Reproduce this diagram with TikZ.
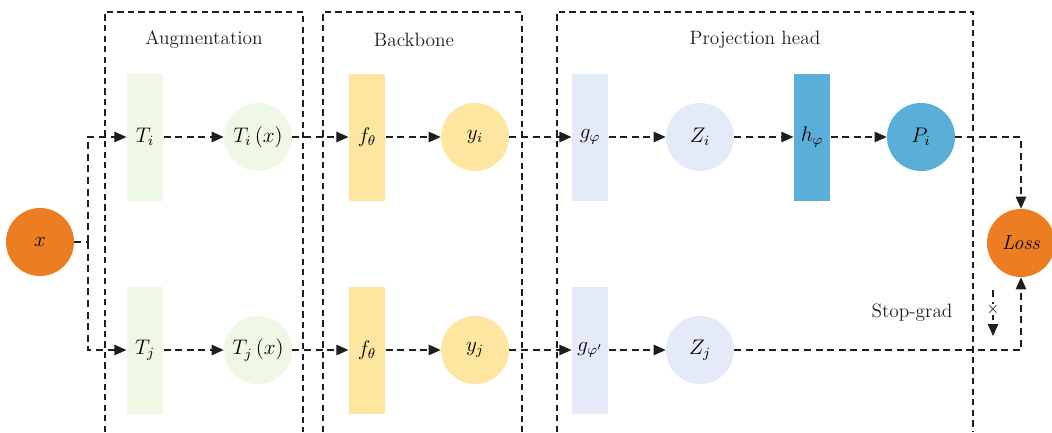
\documentclass[tikz,border=0pt]{standalone}
\usepackage{tikz}
\usetikzlibrary{arrows.meta,positioning,calc}
\definecolor{tangerine}{RGB}{237,125,35}
\definecolor{mint}{RGB}{238,248,228}
\definecolor{butter}{RGB}{252,230,160}
\definecolor{lilac}{RGB}{228,234,248}
\definecolor{sky}{RGB}{91,174,216}
\definecolor{ink}{RGB}{30,30,30}
\tikzset{
  >={Triangle[length=2.4mm,width=2.1mm]},
  bar/.style={fill=#1,minimum width=7.3mm,minimum height=25.4mm,inner sep=0pt,
    font=\fontsize{11.5}{13}\selectfont},
  bar/.default=mint,
  blob/.style={circle,fill=#1,minimum size=13.6mm,inner sep=0pt,
    font=\fontsize{11.5}{13}\selectfont},
  blob/.default=mint,
  flow/.style={->,draw=ink,line width=0.6pt,dash pattern=on 4pt off 2.6pt},
  frame/.style={draw=ink,line width=0.6pt,dash pattern=on 3.6pt off 2.4pt},
  title/.style={font=\fontsize{11}{13}\selectfont,text=ink},
}

\begin{document}
\begin{tikzpicture}[x=0.2mm,y=-0.2mm]
  \useasboundingbox (0,0) rectangle (1052,432);
  % stage frames, open at the bottom
  \draw[frame] (105,432) -- (105,12) -- (303,12) -- (303,432);
  \draw[frame] (323,432) -- (323,12) -- (522,12) -- (522,432);
  \draw[frame] (557,432) -- (557,12) -- (973,12) -- (973,432);
  \node[title] (augt) at (204,40) {Augmentation};
  \node[title] (bbt) at (414,40) {Backbone};
  \node[title] (projt) at (755,40) {Projection head};

  \node[blob=tangerine] (x) at (40,242) {$x$};
  \node[blob=tangerine] (Loss) at (1021,243) {\textit{Loss}};
  \coordinate (split) at (88,242);

  \foreach \r/\y/\g in {i/137/{g_\varphi},j/350/{g_{\varphi'}}}{
    \node[bar=mint] (T\r) at (145,\y) {$T_\r$};
    \node[blob=mint] (Tx\r) at (258,\y) {$T_\r\,(x)$};
    \node[bar=butter] (f\r) at (367,\y) {$f_\theta$};
    \node[blob=butter] (y\r) at (475,\y) {$y_\r$};
    \node[bar=lilac] (g\r) at (590,\y) {$\g$};
    \node[blob=lilac] (Z\r) at (700,\y) {$Z_\r$};
    \draw[flow] (split) |- (T\r);
    \draw[flow] (T\r) -- (Tx\r);
    \draw[flow] (Tx\r) -- (f\r);
    \draw[flow] (f\r) -- (y\r);
    \draw[flow] (y\r) -- (g\r);
    \draw[flow] (g\r) -- (Z\r);
  }
  \node[bar=sky] (h) at (812,137) {$h_\varphi$};
  \node[blob=sky] (P) at (921,137) {$P_i$};
  \draw[flow,-] (x) -- (split);
  \draw[flow] (Zi) -- (h);
  \draw[flow] (h) -- (P);
  \draw[flow] (P) -| (Loss);
  \draw[flow] (Zj) -| (Loss);

  % stop-gradient mark
  \node[title] (stopgrad) at (912,313) {Stop-grad};
  \coordinate (sgtop) at (993,290);
  \coordinate (sgend) at (993,336);
  \draw[flow] (sgtop) -- (sgend);
  \node[inner sep=0pt,fill=white,font=\small] (cut) at ($(sgtop)!0.42!(sgend)$) {$\times$};
\end{tikzpicture}
\end{document}
